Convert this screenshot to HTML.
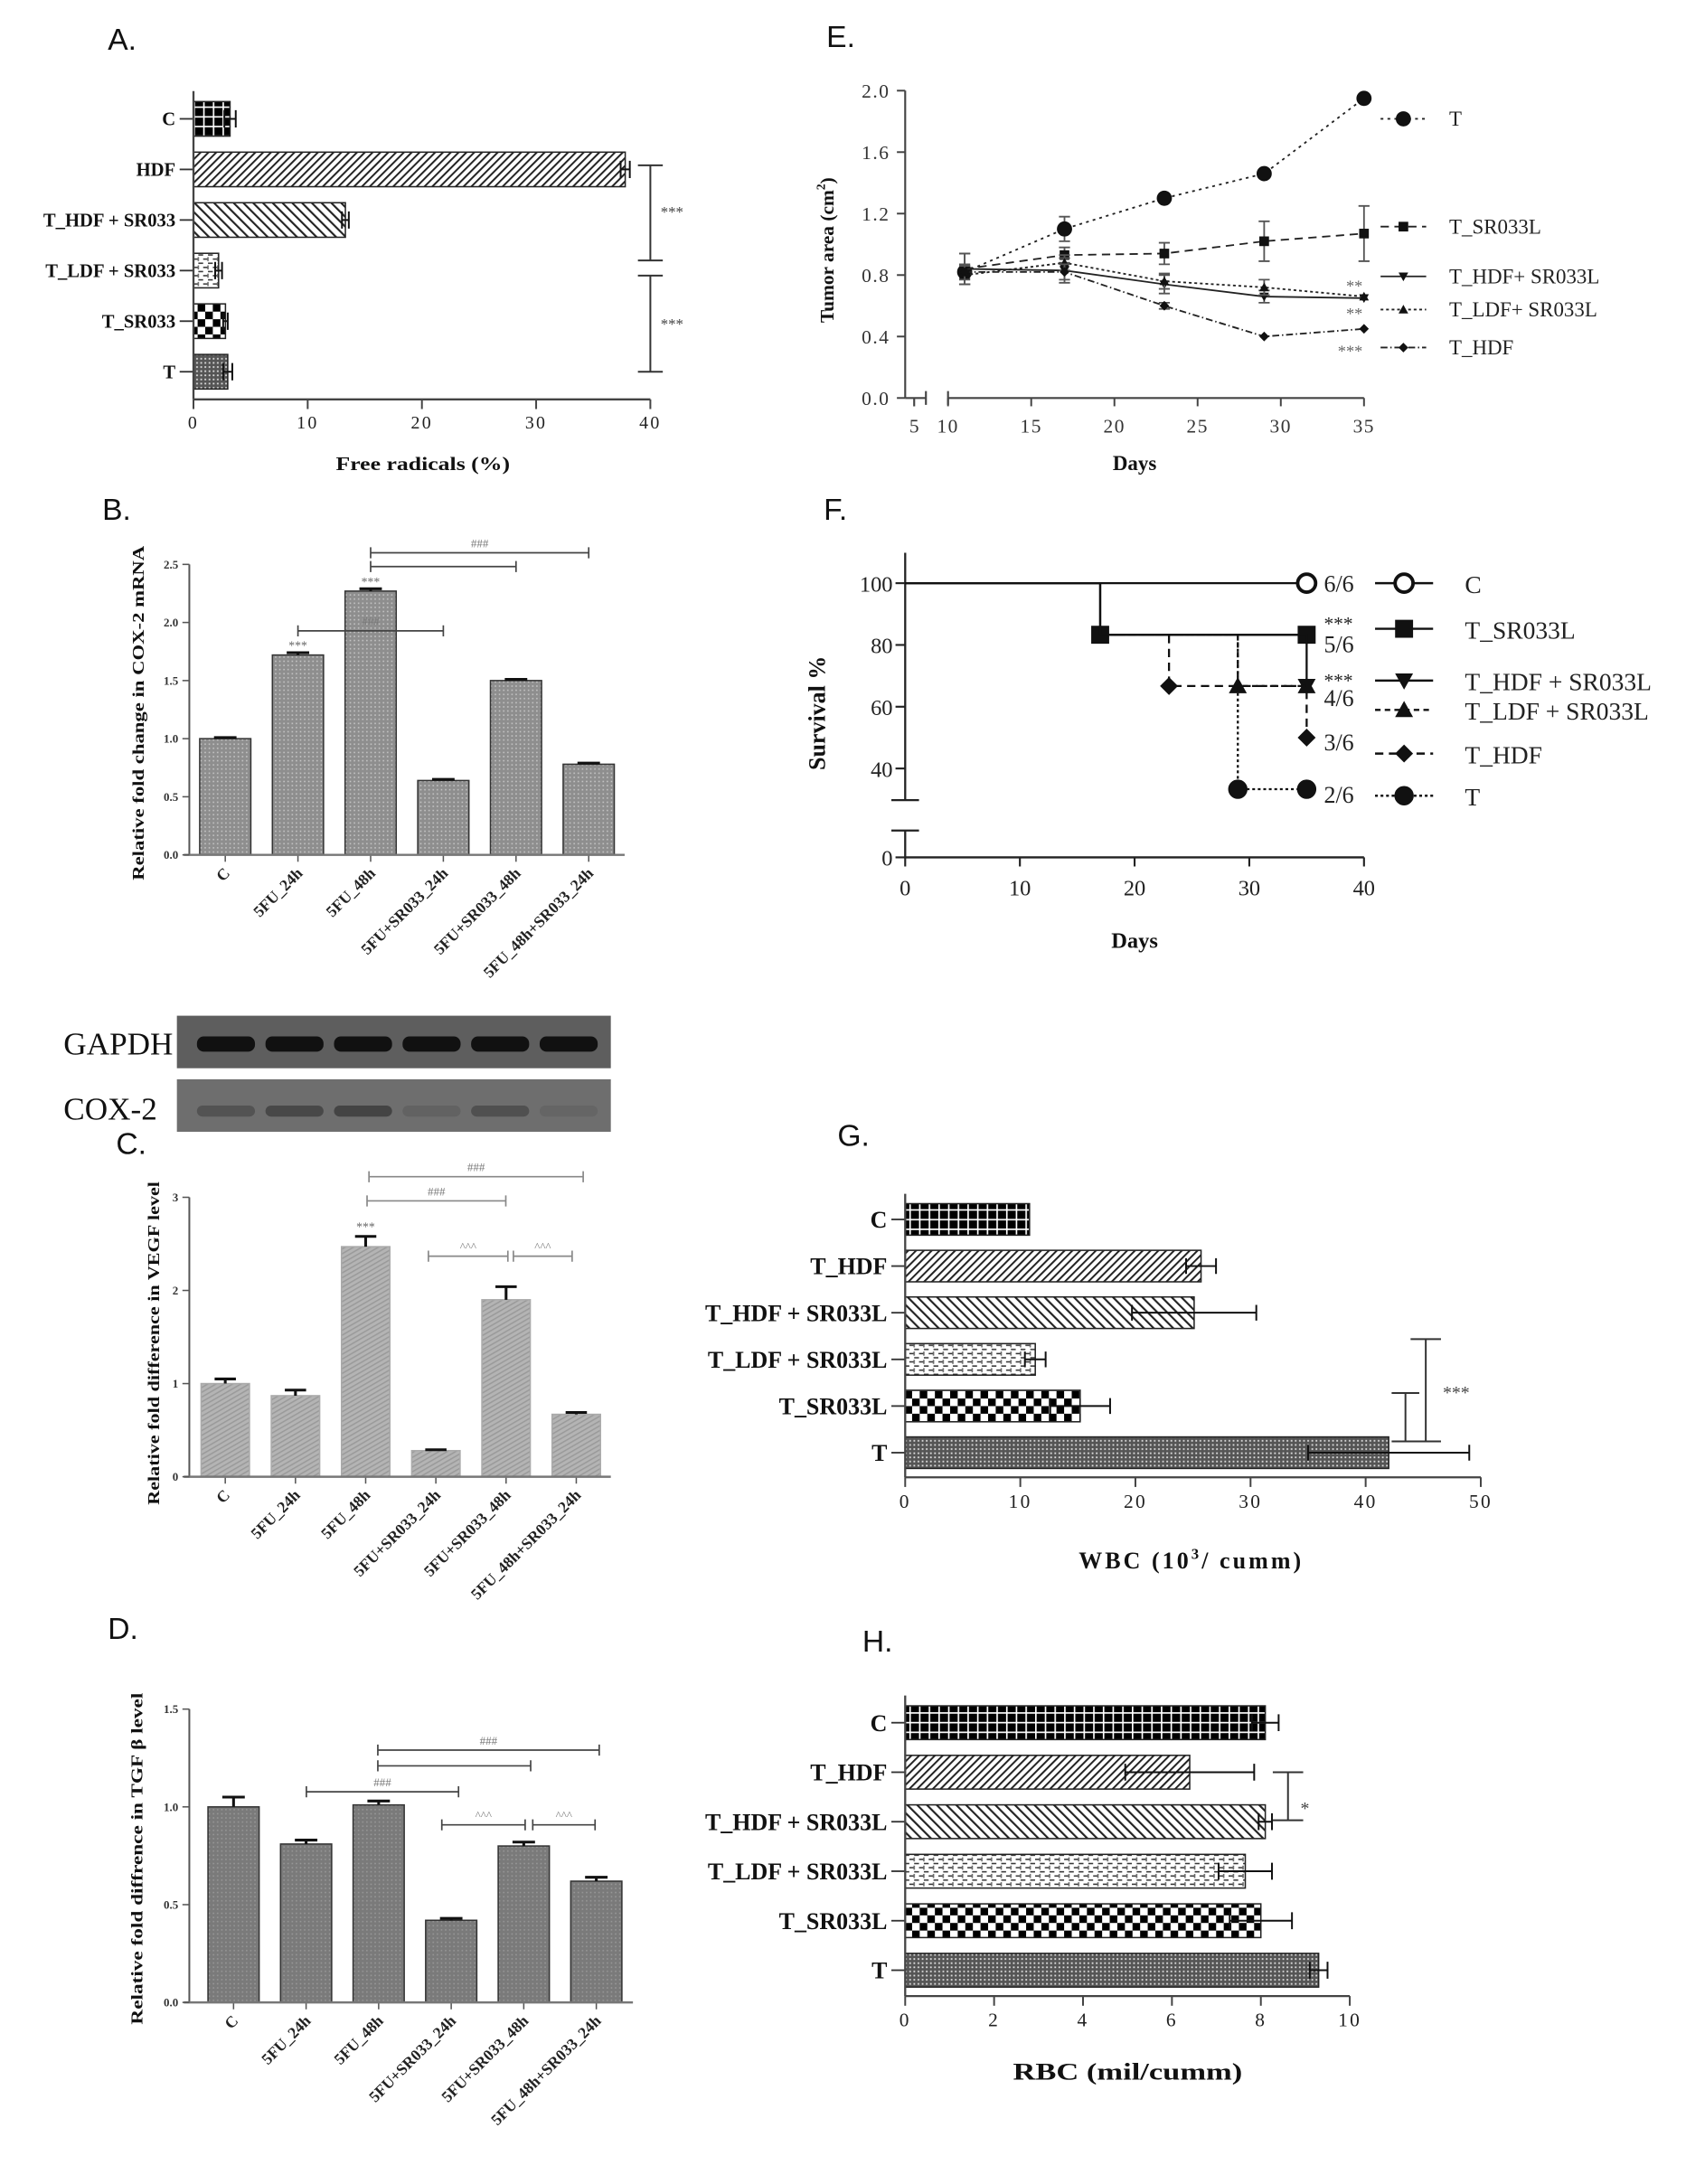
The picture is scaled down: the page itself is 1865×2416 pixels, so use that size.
<!DOCTYPE html>
<html><head><meta charset="utf-8"><title>Figure</title>
<style>
html,body{margin:0;padding:0;background:#fff;}
svg{display:block;}
.ser{font-family:"Liberation Serif",serif;}
.serb{font-family:"Liberation Serif",serif;font-weight:bold;}
.sans{font-family:"Liberation Sans",sans-serif;}
</style></head>
<body>
<svg id="fig" xmlns="http://www.w3.org/2000/svg" width="1865" height="2416" viewBox="0 0 1220 1580.4" preserveAspectRatio="none">
<defs>
<pattern id="pGrid" patternUnits="userSpaceOnUse" width="7" height="7"><rect width="7" height="7" fill="#000"/><rect x="0" y="0" width="7" height="1.1" fill="#fff"/><rect x="0" y="0" width="1.1" height="7" fill="#fff"/></pattern>
<pattern id="pFwd" patternUnits="userSpaceOnUse" width="4" height="4" patternTransform="rotate(45)"><rect width="4" height="4" fill="#fff"/><rect width="1.3" height="4" fill="#222"/></pattern>
<pattern id="pBack" patternUnits="userSpaceOnUse" width="5" height="5" patternTransform="rotate(-45)"><rect width="5" height="5" fill="#fff"/><rect width="1.4" height="5" fill="#222"/></pattern>
<pattern id="pDash" patternUnits="userSpaceOnUse" width="7" height="6"><rect width="7" height="6" fill="#fff"/><rect x="0" y="1" width="3.5" height="1" fill="#333"/><rect x="3.5" y="4" width="3.5" height="1" fill="#333"/><rect x="3" y="0" width="1" height="3" fill="#666"/></pattern>
<pattern id="pCheck" patternUnits="userSpaceOnUse" width="11" height="11"><rect width="11" height="11" fill="#fff"/><rect width="5.5" height="5.5" fill="#000"/><rect x="5.5" y="5.5" width="5.5" height="5.5" fill="#000"/></pattern>
<pattern id="pDots" patternUnits="userSpaceOnUse" width="3" height="3"><rect width="3" height="3" fill="#555"/><rect x="1" y="1" width="1.2" height="1.2" fill="#ddd"/></pattern>
<pattern id="pGB" patternUnits="userSpaceOnUse" width="3" height="3"><rect width="3" height="3" fill="#8e8e8e"/><rect x="1" y="1" width="1" height="1" fill="#c8c8c8"/></pattern>
<pattern id="pGC" patternUnits="userSpaceOnUse" width="3" height="3" patternTransform="rotate(60)"><rect width="3" height="3" fill="#b4b4b4"/><rect width="1" height="3" fill="#9a9a9a"/></pattern>
<pattern id="pGD" patternUnits="userSpaceOnUse" width="3" height="3"><rect width="3" height="3" fill="#7a7a7a"/><rect x="1" y="1" width="1" height="1" fill="#9a9a9a"/></pattern>
</defs>

<g class="sans" font-size="22" fill="#111">
<text x="78" y="36">A.</text>
<text x="74" y="376">B.</text>
<text x="84" y="835">C.</text>
<text x="78" y="1186">D.</text>
<text x="598" y="34">E.</text>
<text x="596" y="376">F.</text>
<text x="606" y="829">G.</text>
<text x="624" y="1195">H.</text>
</g>

<g fill="#111">
<text class="serb" x="306" y="340" font-size="14" text-anchor="middle" textLength="126" lengthAdjust="spacingAndGlyphs">Free radicals (%)</text>
<text class="serb" transform="translate(104,516) rotate(-90)" font-size="12" text-anchor="middle" textLength="242" lengthAdjust="spacingAndGlyphs">Relative fold change in COX-2 mRNA</text>
<text class="serb" transform="translate(115,972) rotate(-90)" font-size="12" text-anchor="middle" textLength="234" lengthAdjust="spacingAndGlyphs">Relative fold difference in VEGF level</text>
<text class="serb" transform="translate(103,1345) rotate(-90)" font-size="12" text-anchor="middle" textLength="240" lengthAdjust="spacingAndGlyphs">Relative fold diffrence in TGF β level</text>
<text class="serb" transform="translate(603,181) rotate(-90)" font-size="14" text-anchor="middle">Tumor area (cm<tspan font-size="9" dy="-6">2</tspan><tspan dy="6">)</tspan></text>
<text class="serb" x="821" y="340" font-size="15" text-anchor="middle">Days</text>
<text class="serb" transform="translate(597,516) rotate(-90)" font-size="17" text-anchor="middle">Survival %</text>
<text class="serb" x="821" y="686" font-size="16" text-anchor="middle">Days</text>
<text class="serb" x="862" y="1135" font-size="17" text-anchor="middle" letter-spacing="2">WBC (10<tspan font-size="11" dy="-7">3</tspan><tspan dy="7">/ cumm)</tspan></text>
<text class="serb" x="816" y="1505" font-size="17" text-anchor="middle" textLength="166" lengthAdjust="spacingAndGlyphs">RBC (mil/cumm)</text>
</g>

<g>
<text class="ser" x="46" y="763" font-size="23" fill="#111">GAPDH</text>
<text class="ser" x="46" y="810" font-size="23" fill="#111">COX-2</text>
<rect x="128" y="735" width="314" height="38" fill="#5e5e5e"/>
<rect x="128" y="781" width="314" height="38" fill="#6e6e6e"/>
</g>

<g id="root"></g>
</svg>

<script>
// ---------- data ----------
const aCats = ['C','HDF','T_HDF + SR033','T_LDF + SR033','T_SR033','T'];
const aVals = [3.2,37.8,13.3,2.2,2.8,3.0];
const aErrs = [0.5,0.4,0.3,0.3,0.2,0.4];
const aTicks = [0,10,20,30,40];

const bcdCats = ['C','5FU_24h','5FU_48h','5FU+SR033_24h','5FU+SR033_48h','5FU_48h+SR033_24h'];
const bVals = [1.0,1.72,2.27,0.64,1.5,0.78];
const bErrs = [0.01,0.02,0.02,0.01,0.01,0.01];
const bTicks = [0,0.5,1,1.5,2,2.5];
const bTickLabels = ['0.0','0.5','1.0','1.5','2.0','2.5'];

const cVals = [1.0,0.87,2.47,0.28,1.9,0.67];
const cErrs = [0.05,0.06,0.11,0.01,0.14,0.02];
const cTicks = [0,1,2,3];
const cTickLabels = ['0','1','2','3'];

const dVals = [1.0,0.81,1.01,0.42,0.8,0.62];
const dErrs = [0.05,0.02,0.02,0.01,0.02,0.02];
const dTicks = [0,0.5,1,1.5];
const dTickLabels = ['0.0','0.5','1.0','1.5'];

const gelGapdh = [1,1,1,1,1,1];
const gelCox = [0.35,0.5,0.55,0.15,0.4,0.1];

const eDays = [11,17,23,29,35];
const eNames = ['T','T_SR033L','T_HDF+ SR033L','T_LDF+ SR033L','T_HDF'];
const eT = [0.82,1.10,1.30,1.46,1.95];
const eTErr = [0.04,0.08,0.03,0.03,0.0];
const eSR = [0.84,0.93,0.94,1.02,1.07];
const eSRErr = [0.1,0.05,0.07,0.13,0.18];
const eHS = [0.84,0.83,0.74,0.66,0.65];
const eHSErr = [0.1,0.08,0.06,0.04,0.0];
const eLS = [0.80,0.88,0.76,0.72,0.66];
const eLSErr = [0.06,0.05,0.05,0.05,0.0];
const eH = [0.82,0.82,0.60,0.40,0.45];
const eHErr = [0.05,0.05,0.02,0.0,0.0];
const eYTicks = [0,0.4,0.8,1.2,1.6,2.0];
const eYTickLabels = ['0.0','0.4','0.8','1.2','1.6','2.0'];
const eXTicks = [10,15,20,25,30,35];

const fNames = ['C','T_SR033L','T_HDF + SR033L','T_LDF + SR033L','T_HDF','T'];
const fCDays = [0,35]; const fCVals = [100,100];
const fSRDays = [0,17,35]; const fSRVals = [100,83.3,83.3];
const fHSDays = [0,17,35,35]; const fHSVals = [100,83.3,83.3,66.7];
const fLSDays = [17,29,35]; const fLSVals = [83.3,66.7,66.7];
const fHDays = [17,23,35,35]; const fHVals = [83.3,66.7,66.7,50];
const fTDays = [23,29,35]; const fTVals = [83.3,33.3,33.3];
const fYTicks = [40,60,80,100];
const fXTicks = [0,10,20,30,40];

const gCats = ['C','T_HDF','T_HDF + SR033L','T_LDF + SR033L','T_SR033L','T'];
const gVals = [10.8,25.7,25.1,11.3,15.2,42];
const gErrs = [0,1.3,5.4,0.9,2.6,7];
const gTicks = [0,10,20,30,40,50];

const hVals = [8.1,6.4,8.1,7.65,8.0,9.3];
const hErrs = [0.3,1.45,0.15,0.6,0.7,0.2];
const hTicks = [0,2,4,6,8,10];

// ---------- helpers ----------
const NS = 'http://www.w3.org/2000/svg';
const root = document.getElementById('root');
function mk(tag, attrs, parent, txt) {
  const e = document.createElementNS(NS, tag);
  for (const k in attrs) e.setAttribute(k, attrs[k]);
  if (txt !== undefined) e.textContent = txt;
  (parent || root).appendChild(e);
  return e;
}
function slug(s){return s.toLowerCase().replace(/[^a-z0-9]+/g,'-').replace(/^-|-$/g,'');}

// ---------- horizontal bar charts ----------
function hbar(c) {
  const g = mk('g', {});
  
  
  const xs = v => c.x0 + v * c.unit;
  const ys = i => c.top + i * c.step;
  c.cats.forEach((cat, i) => {
    const y = ys(i), w = xs(c.vals[i]) - c.x0;
    const r = mk('rect', {x:c.x0, y:y - c.bh/2, width:w, height:c.bh, fill:c.fills[i], stroke:'#222', 'stroke-width':1}, g);
    
    
    if (c.errs[i] > 0) {
      const e1 = xs(c.vals[i] - c.errs[i]), e2 = xs(c.vals[i] + c.errs[i]);
      const el = mk('path', {d:`M${e1},${y}H${e2}M${e2},${y-c.bh/4}V${y+c.bh/4}M${e1},${y-c.bh/4}V${y+c.bh/4}`, stroke:'#111', 'stroke-width':1.3, fill:'none'}, g);
      
      
    }
    const tk = mk('line', {x1:c.x0 - 10, x2:c.x0, y1:y, y2:y, stroke:'#333', 'stroke-width':1.2}, g);
    
    
    const t = mk('text', {x:c.x0 - 13, y:y + c.cf*0.35, 'font-size':c.cf, 'text-anchor':'end', class:'serb', fill:'#111'}, g, cat);
    
    
  });
  const ya = mk('line', {x1:c.x0, x2:c.x0, y1:c.top - c.step*0.55, y2:c.axisY, stroke:'#444', 'stroke-width':1.5}, g);
  
  
  const xa = mk('line', {x1:c.x0, x2:xs(c.ticks[c.ticks.length-1]), y1:c.axisY, y2:c.axisY, stroke:'#444', 'stroke-width':1.5}, g);
  
  
  c.ticks.forEach(t => {
    const l = mk('line', {x1:xs(t), x2:xs(t), y1:c.axisY, y2:c.axisY + 7, stroke:'#444', 'stroke-width':1.3}, g);
    
    
    const tx = mk('text', {x:xs(t), y:c.axisY + c.tf + 8, 'font-size':c.tf, 'text-anchor':'middle', class:'ser', fill:'#222', 'letter-spacing':1.5}, g, String(t));
    
    
  });
  return {g, xs, ys};
}
function bracketV(g, name, x, y1, y2, cap, label, lx, ly, fs) {
  const p = mk('path', {d:`M${x},${y1}V${y2}M${x-cap},${y1}H${x+cap}M${x-cap},${y2}H${x+cap}`, stroke:'#333', 'stroke-width':1.3, fill:'none'}, g);
  
  
  if (label) {
    const t = mk('text', {x:lx, y:ly, 'font-size':fs, class:'ser', fill:'#444'}, g, label);
    
    
  }
}

// Panel A
const A = hbar({id:'a', cats:aCats, vals:aVals, errs:aErrs, ticks:aTicks, x0:140, unit:8.265, top:86, step:36.6, bh:25, axisY:289, cf:13.5, tf:13,
  fills:['url(#pGrid)','url(#pFwd)','url(#pBack)','url(#pDash)','url(#pCheck)','url(#pDots)']});
bracketV(A.g, 'a-significance-upper', 470.6, A.ys(1) - 3, A.ys(2.8), 9, '***', 478, 157, 11);
bracketV(A.g, 'a-significance-lower', 470.6, A.ys(3.1), A.ys(5), 9, '***', 478, 238, 11);

// Panel G
const G = hbar({id:'g', cats:gCats, vals:gVals, errs:gErrs, ticks:gTicks, x0:655, unit:8.33, top:882.4, step:33.76, bh:22.8, axisY:1069, cf:17, tf:14,
  fills:['url(#pGrid)','url(#pFwd)','url(#pBack)','url(#pDash)','url(#pCheck)','url(#pDots)']});
bracketV(G.g, 'g-significance-inner', 1017, 1008, 1043, 10, null);
bracketV(G.g, 'g-significance-outer', 1031.7, 969, 1043, 11, '***', 1044, 1012, 13);

// Panel H
const H = hbar({id:'h', cats:gCats, vals:hVals, errs:hErrs, ticks:hTicks, x0:655, unit:32.17, top:1246.6, step:35.82, bh:24.4, axisY:1444.4, cf:17, tf:14,
  fills:['url(#pGrid)','url(#pFwd)','url(#pBack)','url(#pDash)','url(#pCheck)','url(#pDots)']});
bracketV(H.g, 'h-significance', 932, H.ys(1), H.ys(1.97), 11, '*', 941, 1313, 13);

// ---------- vertical bar charts ----------
function vbar(c) {
  const g = mk('g', {});
  
  
  const ys = v => c.y0 - v * c.unit;
  const xs = i => c.cx0 + i * c.step;
  c.cats.forEach((cat, i) => {
    const x = xs(i), yv = ys(c.vals[i]);
    const r = mk('rect', {x:x - c.bw/2, y:yv, width:c.bw, height:c.y0 - yv, fill:c.fill, stroke:c.stroke, 'stroke-width':1}, g);
    
    
    const ye = ys(c.vals[i] + c.errs[i]);
    const e = mk('path', {d:`M${x},${yv}V${ye}M${x-c.bw*0.22},${ye}H${x+c.bw*0.22}`, stroke:'#111', 'stroke-width':2, fill:'none'}, g);
    
    
    const tk = mk('line', {x1:x, x2:x, y1:c.y0, y2:c.y0 + 5, stroke:'#555', 'stroke-width':1}, g);
    
    
    const t = mk('text', {transform:`translate(${x+4},${c.y0+14}) rotate(-45)`, 'font-size':11.5, 'text-anchor':'end', class:'serb', fill:'#222'}, g, cat);
    
    
  });
  const ya = mk('line', {x1:c.ax, x2:c.ax, y1:ys(c.ticks[c.ticks.length-1]), y2:c.y0, stroke:'#555', 'stroke-width':1.3}, g);
  
  
  const xa = mk('line', {x1:c.ax - 4, x2:c.xEnd, y1:c.y0, y2:c.y0, stroke:'#777', 'stroke-width':1.6}, g);
  
  
  c.ticks.forEach((t, k) => {
    const l = mk('line', {x1:c.ax - 5, x2:c.ax, y1:ys(t), y2:ys(t), stroke:'#555', 'stroke-width':1}, g);
    
    
    const tx = mk('text', {x:c.ax - 8, y:ys(t) + 3, 'font-size':8.5, 'text-anchor':'end', class:'serb', fill:'#333'}, g, c.tickLabels[k]);
    
    
  });
  return {g, xs, ys};
}
function bracketH(g, name, x1, x2, y, label, color) {
  const p = mk('path', {d:`M${x1},${y-4}V${y+4}M${x2},${y-4}V${y+4}M${x1},${y}H${x2}`, stroke:color || '#444', 'stroke-width':1.1, fill:'none'}, g);
  
  
  if (label) {
    const t = mk('text', {x:(x1+x2)/2, y:y - 4, 'font-size':8.5, 'text-anchor':'middle', class:'ser', fill:'#777'}, g, label);
    
    
  }
}
function star(g, name, x, y) {
  const t = mk('text', {x:x, y:y, 'font-size':9, 'text-anchor':'middle', class:'ser', fill:'#666'}, g, '***');
  
  
}

const B = vbar({id:'b', cats:bcdCats, vals:bVals, errs:bErrs, ticks:bTicks, tickLabels:bTickLabels, ax:137, xEnd:452, y0:618.6, unit:84.08, cx0:163, step:52.6, bw:37, fill:'url(#pGB)', stroke:'#333'});
bracketH(B.g, 'b-hash-bracket-top', B.xs(2), B.xs(5), 400, '###');
bracketH(B.g, 'b-hash-bracket-mid', B.xs(2), B.xs(4), 410, null);
bracketH(B.g, 'b-hash-bracket-low', B.xs(1), B.xs(3), 456.5, '###');
star(B.g, 'b-star-24h', B.xs(1), B.ys(bVals[1]) - 4);
star(B.g, 'b-star-48h', B.xs(2), B.ys(bVals[2]) - 4);

const C = vbar({id:'c', cats:bcdCats, vals:cVals, errs:cErrs, ticks:cTicks, tickLabels:cTickLabels, ax:137, xEnd:442, y0:1068.6, unit:67.4, cx0:163, step:50.8, bw:35, fill:'url(#pGC)', stroke:'#aaa'});
bracketH(C.g, 'c-hash-bracket-top', 267, 422, 851.5, '###', '#888');
bracketH(C.g, 'c-hash-bracket-mid', 265.6, 366, 869, '###', '#888');
bracketH(C.g, 'c-caret-bracket-1', 310, 367.5, 909, '^^^', '#888');
bracketH(C.g, 'c-caret-bracket-2', 371.5, 414, 909, '^^^', '#888');
star(C.g, 'c-star-48h', C.xs(2), C.ys(cVals[2] + cErrs[2]) - 4);

const D = vbar({id:'d', cats:bcdCats, vals:dVals, errs:dErrs, ticks:dTicks, tickLabels:dTickLabels, ax:137, xEnd:458, y0:1449, unit:141.5, cx0:169, step:52.5, bw:37, fill:'url(#pGD)', stroke:'#333'});
bracketH(D.g, 'd-hash-bracket-top', 273.4, 433.6, 1266.4, '###');
bracketH(D.g, 'd-hash-bracket-mid', 273.4, 384, 1277.8, null);
bracketH(D.g, 'd-hash-bracket-low', 221.7, 331.8, 1296.6, '###');
bracketH(D.g, 'd-caret-bracket-1', 319.7, 380, 1320.5, '^^^');
bracketH(D.g, 'd-caret-bracket-2', 385.5, 430.6, 1320.5, '^^^');

// ---------- gel bands ----------
(function(){
  const gg = mk('g', {});
  
  
  const lane = i => 163.5 + i * 49.6;
  gelGapdh.forEach((v, i) => {
    const b = mk('rect', {x:lane(i) - 21, y:750, width:42, height:11, rx:5, fill:'#111', opacity:v}, gg);
    
    
  });
  gelCox.forEach((v, i) => {
    const b = mk('rect', {x:lane(i) - 21, y:800, width:42, height:8, rx:4, fill:'#222', opacity:v}, gg);
    
    
  });
})();

// ---------- marker helper ----------
function marker(g, name, type, x, y, s, fill) {
  let e;
  if (type === 'circle') e = mk('circle', {cx:x, cy:y, r:s, fill:fill || '#111', stroke:'#111', 'stroke-width':fill === '#fff' ? 2.5 : 1}, g);
  else if (type === 'square') e = mk('rect', {x:x - s, y:y - s, width:2*s, height:2*s, fill:'#111'}, g);
  else if (type === 'tdown') e = mk('path', {d:`M${x-s},${y-s*0.8}H${x+s}L${x},${y+s}Z`, fill:'#111'}, g);
  else if (type === 'tup') e = mk('path', {d:`M${x-s},${y+s*0.8}H${x+s}L${x},${y-s}Z`, fill:'#111'}, g);
  else e = mk('path', {d:`M${x},${y-s}L${x+s},${y}L${x},${y+s}L${x-s},${y}Z`, fill:'#111'}, g);
  
  
  return e;
}

// ---------- Panel E ----------
(function(){
  const g = mk('g', {});
  
  
  const xE = d => d <= 5 ? 661.5 : 686 + (d - 10) * 12.04;
  const yE = v => 288 - v * 111.2;
  const ya = mk('line', {x1:655, x2:655, y1:yE(2.0), y2:288, stroke:'#444', 'stroke-width':1.4}, g);
  
  
  const xa1 = mk('path', {d:'M655,288H670M670,283V293M661.5,288V294', stroke:'#444', 'stroke-width':1.4, fill:'none'}, g);
  
  
  const xa2 = mk('path', {d:`M${xE(10)},283V293M${xE(10)},288H${xE(35)}`, stroke:'#444', 'stroke-width':1.4, fill:'none'}, g);
  
  
  const t5 = mk('text', {x:661.5, y:313, 'font-size':14, 'text-anchor':'middle', class:'ser', fill:'#333'}, g, '5');
  
  
  eXTicks.forEach(d => {
    const l = mk('line', {x1:xE(d), x2:xE(d), y1:288, y2:294, stroke:'#444', 'stroke-width':1.3}, g);
    
    
    const t = mk('text', {x:xE(d), y:313, 'font-size':14, 'text-anchor':'middle', class:'ser', fill:'#333', 'letter-spacing':1}, g, String(d));
    
    
  });
  eYTicks.forEach((v, k) => {
    const l = mk('line', {x1:649, x2:655, y1:yE(v), y2:yE(v), stroke:'#444', 'stroke-width':1.3}, g);
    
    
    const t = mk('text', {x:644, y:yE(v) + 5, 'font-size':14, 'text-anchor':'end', class:'ser', fill:'#333', 'letter-spacing':1}, g, eYTickLabels[k]);
    
    
  });
  const series = [
    {vals:eT, errs:eTErr, dash:'2,3', m:'circle', s:5},
    {vals:eSR, errs:eSRErr, dash:'6,4', m:'square', s:3.5},
    {vals:eHS, errs:eHSErr, dash:'none', m:'tdown', s:3.5},
    {vals:eLS, errs:eLSErr, dash:'2,2', m:'tup', s:3.5},
    {vals:eH, errs:eHErr, dash:'5,2,1,2', m:'diamond', s:3.5}
  ];
  const legY = [86,164,200,224,251.5];
  series.forEach((sr, k) => {
    const nm = slug(eNames[k]);
    const pts = eDays.map((d, i) => `${xE(d)},${yE(sr.vals[i])}`).join(' ');
    const pl = mk('polyline', {points:pts, fill:'none', stroke:'#222', 'stroke-width':1.2, 'stroke-dasharray':sr.dash}, g);
    
    
    eDays.forEach((d, i) => {
      if (sr.errs[i] > 0) {
        const x = xE(d), y1 = yE(sr.vals[i] - sr.errs[i]), y2 = yE(sr.vals[i] + sr.errs[i]);
        const eb = mk('path', {d:`M${x},${y1}V${y2}M${x-4},${y1}H${x+4}M${x-4},${y2}H${x+4}`, stroke:'#555', 'stroke-width':1.2, fill:'none'}, g);
        
        
      }
      marker(g, 'e-point-' + nm, sr.m, xE(d), yE(sr.vals[i]), sr.s);
    });
    const ll = mk('line', {x1:999, x2:1032, y1:legY[k], y2:legY[k], stroke:'#222', 'stroke-width':1.2, 'stroke-dasharray':sr.dash}, g);
    
    
    marker(g, 'e-legend-marker-' + nm, sr.m, 1015.5, legY[k], sr.s);
    const lt = mk('text', {x:1048.6, y:legY[k] + 5, 'font-size':15, class:'ser', fill:'#222'}, g, eNames[k]);
    
    
  });
  [['**',206],['**',226],['***',253]].forEach(([s, y]) => {
    const t = mk('text', {x:986, y:y + 5, 'font-size':12, 'text-anchor':'end', class:'ser', fill:'#666'}, g, s);
    
    
  });
})();

// ---------- Panel F ----------
(function(){
  const g = mk('g', {});
  
  
  const xF = d => 655 + d * 8.3;
  const yF = p => p >= 30 ? 422 + (100 - p) * 2.235 : 620.4 - p * 1;
  const ax = mk('path', {d:'M655,400V579M645,579H665M645,601H665M655,601V620.4H987', stroke:'#222', 'stroke-width':1.5, fill:'none'}, g);
  
  
  fYTicks.concat([0]).forEach(v => {
    const l = mk('line', {x1:648, x2:655, y1:yF(v), y2:yF(v), stroke:'#222', 'stroke-width':1.4}, g);
    
    
    const t = mk('text', {x:646, y:yF(v) + 6, 'font-size':16, 'text-anchor':'end', class:'ser', fill:'#222'}, g, String(v));
    
    
  });
  fXTicks.forEach(d => {
    const l = mk('line', {x1:xF(d), x2:xF(d), y1:620.4, y2:627, stroke:'#222', 'stroke-width':1.4}, g);
    
    
    const t = mk('text', {x:xF(d), y:648, 'font-size':16, 'text-anchor':'middle', class:'ser', fill:'#222'}, g, String(d));
    
    
  });
  const series = [
    {days:fCDays, vals:fCVals, dash:'none', m:'circle', fill:'#fff', mk:[1]},
    {days:fSRDays, vals:fSRVals, dash:'none', m:'square', mk:[1,2]},
    {days:fHSDays, vals:fHSVals, dash:'none', m:'tdown', mk:[3]},
    {days:fLSDays, vals:fLSVals, dash:'4,3', m:'tup', mk:[1,2]},
    {days:fHDays, vals:fHVals, dash:'6,4', m:'diamond', mk:[1,3]},
    {days:fTDays, vals:fTVals, dash:'2,2', m:'circle', mk:[1,2]}
  ];
  const legY = [422,455,492.5,513.7,545.3,575.8];
  series.forEach((sr, k) => {
    const nm = slug(fNames[k]);
    let d = `M${xF(sr.days[0])},${yF(sr.vals[0])}`;
    for (let i = 1; i < sr.days.length; i++) {
      d += `H${xF(sr.days[i])}V${yF(sr.vals[i])}`;
    }
    const p = mk('path', {d:d, fill:'none', stroke:'#111', 'stroke-width':1.5, 'stroke-dasharray':sr.dash}, g);
    
    
    sr.mk.forEach(i => { marker(g, 'f-point-' + nm, sr.m, xF(sr.days[i]), yF(sr.vals[i]), 6.5, sr.fill); });
    const ll = mk('line', {x1:995, x2:1037, y1:legY[k], y2:legY[k], stroke:'#111', 'stroke-width':1.6, 'stroke-dasharray':sr.dash}, g);
    
    
    marker(g, 'f-legend-marker-' + nm, sr.m, 1016, legY[k], 6.5, sr.fill);
    const lt = mk('text', {x:1060, y:legY[k] + 7, 'font-size':18, class:'ser', fill:'#222'}, g, fNames[k]);
    
    
  });
  [['6/6',428],['5/6',472],['4/6',511],['3/6',543],['2/6',581]].forEach(([s, y]) => {
    const t = mk('text', {x:958, y:y, 'font-size':17, class:'ser', fill:'#222'}, g, s);
    
    
  });
  [456,497].forEach(y => {
    const t = mk('text', {x:958, y:y, 'font-size':14, class:'ser', fill:'#222'}, g, '***');
    
    
  });
})();
</script>
</body></html>
